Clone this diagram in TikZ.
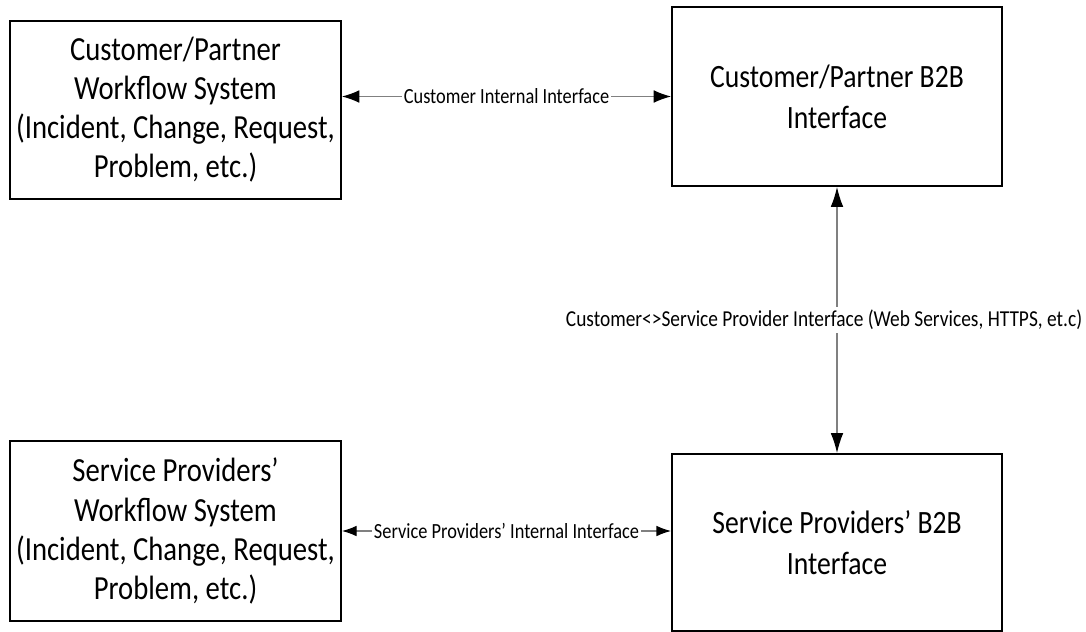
\documentclass[tikz,border=0pt]{standalone}
\usepackage{fontspec}
\setmainfont{Carlito}[FakeStretch=0.85]
\usetikzlibrary{arrows.meta}
\begin{document}
\begin{tikzpicture}[x=0.75pt,y=-0.75pt,
  box/.style={draw=black,line width=1.4pt,fill=white,align=center,inner sep=0pt},
  boxtext/.style={font=\fontsize{25.3}{29.3}\selectfont},
  boxtextb/.style={font=\fontsize{24.4}{30.5}\selectfont},
  link/.style={draw=black!50,line width=0.9pt},
  lbl/.style={fill=white,inner xsep=1.5pt,inner ysep=2pt,font=\fontsize{16.2}{18}\selectfont,text=black},
  lblv/.style={fill=white,inner xsep=1.5pt,inner ysep=2pt,font=\fontsize{17.1}{19}\selectfont,text=black}
]
\useasboundingbox (0,0) rectangle (1086,632);
\node[box,boxtext,minimum width=248.25pt,minimum height=133.5pt] (A) at (175.5,110)
  {Customer/Partner\\Workflow System\\(Incident, Change, Request,\\Problem, etc.)};
\node[box,boxtext,minimum width=248.25pt,minimum height=135pt] (C) at (175.5,531)
  {Service Providers’\\Workflow System\\(Incident, Change, Request,\\Problem, etc.)};
\node[box,boxtextb,minimum width=247.5pt,minimum height=134.25pt] (B) at (837,96.5)
  {Customer/Partner B2B\\Interface};
\node[box,boxtextb,minimum width=247.5pt,minimum height=132.75pt] (D) at (837,542.5)
  {Service Providers’ B2B\\Interface};

\draw[link,{Latex[black,length=13pt,width=9.5pt]}-{Latex[black,length=13pt,width=9.5pt]}]
  (A.east |- B.west) -- node[lbl] {Customer Internal Interface} (B.west);
\draw[link,{Latex[black,length=11pt,width=8pt]}-{Latex[black,length=11pt,width=8pt]}]
  (C.east) -- node[lbl] {Service Providers’ Internal Interface} (C.east -| D.west);
\draw[link,{Latex[black,length=15pt,width=9.5pt]}-{Latex[black,length=15pt,width=9.5pt]}]
  (B.south) -- node[lblv,xshift=-9.75pt] {Customer<>Service Provider Interface (Web Services, HTTPS, et.c)} (D.north);
\end{tikzpicture}
\end{document}
